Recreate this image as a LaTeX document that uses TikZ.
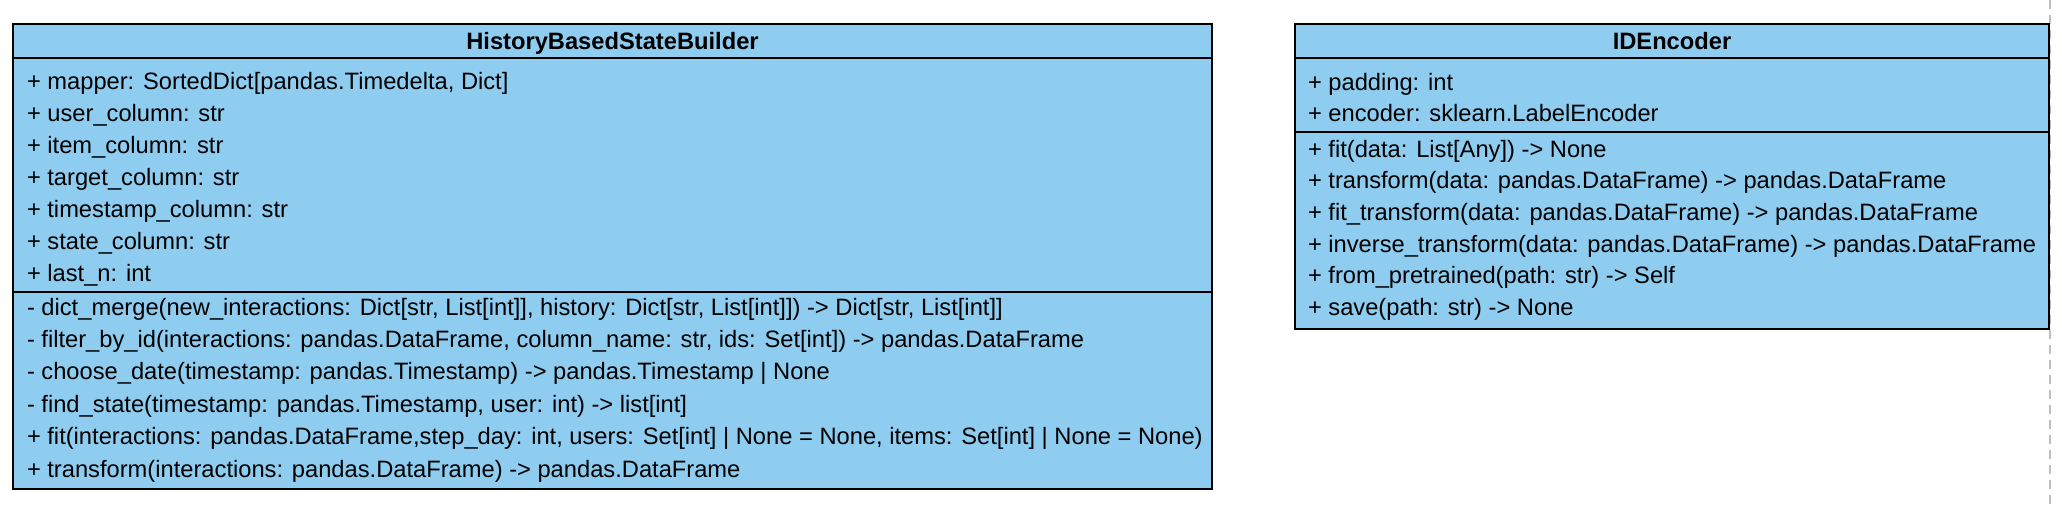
\documentclass[tikz,border=0pt]{standalone}
\usepackage{fontspec}
\setmainfont{Liberation Sans}
\definecolor{umlblue}{RGB}{142,204,240}
\definecolor{pagegray}{RGB}{190,190,190}
\begin{document}
\begin{tikzpicture}[x=0.5pt,y=-0.5pt,
  classbox/.style={draw=black, line width=1pt, fill=umlblue},
  divider/.style={draw=black, line width=1pt},
  member/.style={anchor=base west, inner sep=0pt, outer sep=0pt, font=\fontsize{11.85}{14}\selectfont},
  classtitle/.style={anchor=base, inner sep=0pt, outer sep=0pt, font=\fontsize{11.85}{14}\selectfont\bfseries}]
\useasboundingbox (0,0) rectangle (2062,510);
% page break line
\coordinate (pbtop) at (2050,0);
\coordinate (pbbot) at (2050,510);
\draw[pagegray, line width=1pt, dash pattern=on 4.5pt off 3pt] (pbtop) -- (pbbot);

% HistoryBasedStateBuilder
\draw[classbox] (13,24) rectangle (1212,489);
\draw[divider] (13,58) -- (1212,58);
\draw[divider] (13,292) -- (1212,292);
\node[classtitle] (hbtitle) at (612.5,49.5) {HistoryBasedStateBuilder};
\node[member] (hba1) at (27,89) {+ mapper: SortedDict[pandas.Timedelta, Dict]};
\node[member] (hba2) at (27,121) {+ user\_column: str};
\node[member] (hba3) at (27,153) {+ item\_column: str};
\node[member] (hba4) at (27,185) {+ target\_column: str};
\node[member] (hba5) at (27,217) {+ timestamp\_column: str};
\node[member] (hba6) at (27,249) {+ state\_column: str};
\node[member] (hba7) at (27,281) {+ last\_n: int};
\node[member] (hbm1) at (27,315) {- dict\_merge(new\_interactions: Dict[str, List[int]], history: Dict[str, List[int]]) -> Dict[str, List[int]]};
\node[member] (hbm2) at (27,347.4) {- filter\_by\_id(interactions: pandas.DataFrame, column\_name: str, ids: Set[int]) -> pandas.DataFrame};
\node[member] (hbm3) at (27,379.8) {- choose\_date(timestamp: pandas.Timestamp) -> pandas.Timestamp | None};
\node[member] (hbm4) at (27,412.2) {- find\_state(timestamp: pandas.Timestamp, user: int) -> list[int]};
\node[member] (hbm5) at (27,444.6) {+ fit(interactions: pandas.DataFrame,step\_day: int, users: Set[int] | None = None, items: Set[int] | None = None)};
\node[member] (hbm6) at (27,477) {+ transform(interactions: pandas.DataFrame) -> pandas.DataFrame};

% IDEncoder
\draw[classbox] (1295,24) rectangle (2049,329);
\draw[divider] (1295,58) -- (2049,58);
\draw[divider] (1295,132) -- (2049,132);
\node[classtitle] (idtitle) at (1672,49.5) {IDEncoder};
\node[member] (ida1) at (1308,90) {+ padding: int};
\node[member] (ida2) at (1308,121) {+ encoder: sklearn.LabelEncoder};
\node[member] (idm1) at (1308,157) {+ fit(data: List[Any]) -> None};
\node[member] (idm2) at (1308,188) {+ transform(data: pandas.DataFrame) -> pandas.DataFrame};
\node[member] (idm3) at (1308,220) {+ fit\_transform(data: pandas.DataFrame) -> pandas.DataFrame};
\node[member] (idm4) at (1308,252) {+ inverse\_transform(data: pandas.DataFrame) -> pandas.DataFrame};
\node[member] (idm5) at (1308,283) {+ from\_pretrained(path: str) -> Self};
\node[member] (idm6) at (1308,315) {+ save(path: str) -> None};
\end{tikzpicture}
\end{document}
